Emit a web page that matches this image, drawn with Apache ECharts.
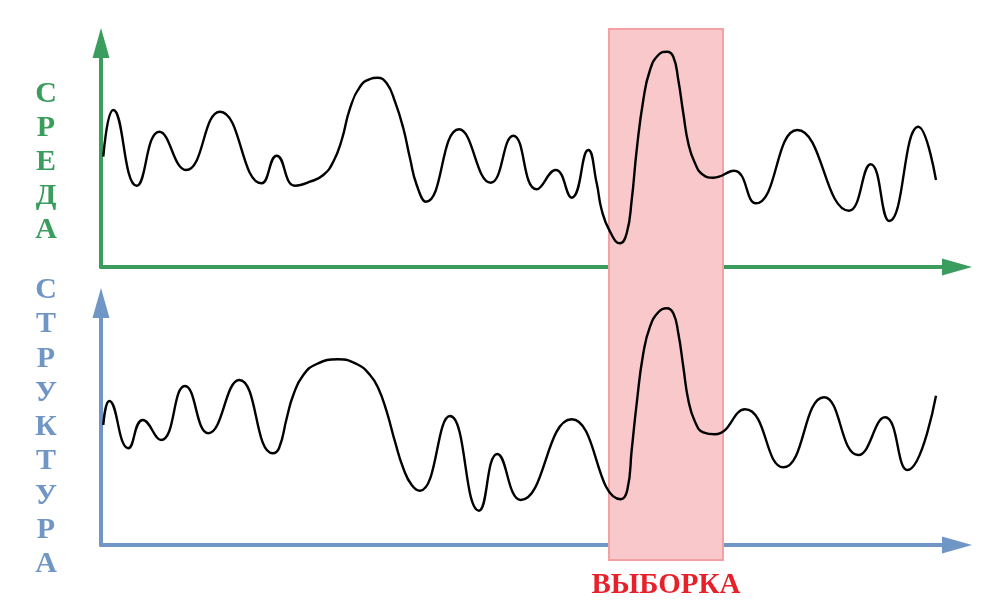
<!DOCTYPE html>
<html>
<head>
<meta charset="utf-8">
<script src="https://cdn.jsdelivr.net/npm/echarts@6/dist/echarts.min.js"></script>
<style>html,body{margin:0;padding:0;background:#fff}#c{width:990px;height:604px}</style>
</head>
<body>
<div id="c"></div>
<script>
// Top panel ("СРЕДА") curve
const topX = [0.23, 1.23, 3.57, 5.83, 8.5, 11.9, 16.07, 17.57, 19.4, 20.9, 22.23, 23.23, 24.07, 24.9, 25.9, 26.9, 27.63, 28.57, 29.4, 30.23, 30.9, 31.57, 32.5, 35.8, 38.97, 41.23, 43.57, 45.47, 47.07, 48.73, 49.57, 50.07, 50.9, 51.9, 52.57, 53.07, 53.57, 54.23, 54.9, 55.73, 56.6, 57.23, 57.73, 58.23, 58.73, 59.4, 60.23, 61.23, 63.3, 65.47, 69.63, 74.8, 76.97, 78.83, 81.73, 83.5];
const topY = [11.03, 15.7, 8.13, 13.53, 9.7, 15.53, 8.37, 11.13, 8.13, 8.53, 9.2, 10.53, 12.7, 15.87, 18.03, 18.8, 18.93, 18.37, 16.53, 13.87, 10.87, 8.2, 6.53, 13.77, 8.43, 13.13, 7.77, 9.7, 6.93, 11.7, 8.37, 5.7, 3.53, 2.37, 3.37, 6.7, 11.7, 16.7, 19.7, 21.2, 21.53, 21.03, 18.7, 15.37, 12.37, 10.37, 9.2, 8.93, 9.63, 6.37, 13.7, 5.63, 10.27, 4.6, 14.03, 8.7];
// Bottom panel ("СТРУКТУРА") curve
const botX = [0.23, 0.83, 2.73, 4.17, 6.0, 8.4, 10.73, 13.83, 17.17, 17.8, 18.57, 19.23, 20.23, 21.57, 23.73, 25.57, 26.9, 27.73, 28.57, 29.4, 30.23, 31.07, 31.9, 34.9, 37.8, 39.63, 41.97, 47.07, 51.97, 52.63, 53.07, 53.57, 54.23, 54.9, 55.73, 56.57, 57.23, 57.73, 58.23, 58.73, 59.4, 60.23, 61.4, 64.4, 68.23, 72.3, 75.73, 78.4, 80.63, 83.5];
const botY = [12.0, 14.4, 9.67, 12.5, 10.5, 15.9, 11.17, 16.5, 9.17, 9.67, 12.67, 15.0, 17.0, 18.1, 18.57, 18.1, 17.0, 15.67, 13.33, 10.33, 7.67, 6.0, 5.43, 12.9, 3.43, 9.1, 4.5, 12.57, 4.57, 5.5, 9.5, 14.17, 19.17, 21.83, 23.27, 23.67, 23.17, 21.17, 17.83, 14.5, 12.33, 11.27, 11.07, 13.57, 7.77, 14.77, 9.0, 12.77, 7.5, 14.93];
// Selection window on the shared x scale
const sampleRange = [50.8, 62.2];
const labels = { top: 'СРЕДА', bottom: 'СТРУКТУРА', sample: 'ВЫБОРКА' };
const xMax = 85.6, topMax = 22.4, botMax = 24.2;

const GREEN = '#3a9d5d', BLUE = '#7096c6';
const zip = (xs, ys) => xs.map((x, i) => [x, ys[i]]);
const vert = s => s.split('').join('\n');

function axisX(idx, color) {
  return { type: 'value', gridIndex: idx, min: 0, max: xMax, show: color !== null,
    axisLine: { show: color !== null, symbol: ['none', 'triangle'], symbolSize: [17, 30],
      lineStyle: { color: color || '#000', width: 4 } },
    axisTick: { show: false }, axisLabel: { show: false }, splitLine: { show: false } };
}
function axisY(idx, max, color) {
  return { type: 'value', gridIndex: idx, min: 0, max: max, show: color !== null,
    axisLine: { show: color !== null, onZero: false, symbol: ['none', 'triangle'], symbolSize: [17, 30],
      lineStyle: { color: color || '#000', width: 4 } },
    axisTick: { show: false }, axisLabel: { show: false }, splitLine: { show: false } };
}
const serif = 'Liberation Serif, Times New Roman, serif';
const curve = (xi, yi, xs, ys) => ({
  type: 'line', xAxisIndex: xi, yAxisIndex: yi, data: zip(xs, ys),
  smooth: 0.5, showSymbol: false, symbol: 'none', z: 5,
  lineStyle: { color: '#000', width: 2.4 }
});

const chart = echarts.init(document.getElementById('c'), null, { renderer: 'canvas' });
chart.setOption({
  animation: false,
  title: [
    { text: vert(labels.top), left: 46, top: 77, padding: 0, textAlign: 'center',
      textStyle: { color: GREEN, fontFamily: serif, fontWeight: 'bold', fontSize: 30, lineHeight: 34 } },
    { text: vert(labels.bottom), left: 46, top: 273, padding: 0, textAlign: 'center',
      textStyle: { color: BLUE, fontFamily: serif, fontWeight: 'bold', fontSize: 30, lineHeight: 34.3 } }
  ],
  grid: [
    { left: 101, top: 43, width: 856, height: 224 },
    { left: 101, top: 303, width: 856, height: 242 },
    { left: 101, top: 29, width: 856, height: 531 }
  ],
  xAxis: [axisX(0, GREEN), axisX(1, BLUE), axisX(2, null)],
  yAxis: [axisY(0, topMax, GREEN), axisY(1, botMax, BLUE), axisY(2, 1, null)],
  series: [
    { type: 'line', xAxisIndex: 2, yAxisIndex: 2, data: [[0, 0]], symbol: 'none',
      lineStyle: { opacity: 0 }, z: 1, silent: true,
      markArea: { silent: true,
        itemStyle: { color: '#f9c8cb', borderColor: '#f4a0a4', borderWidth: 2 },
        label: { show: true, position: 'bottom', distance: 10, formatter: labels.sample,
          color: '#e8202a', fontFamily: serif, fontWeight: 'bold', fontSize: 29 },
        data: [[{ xAxis: sampleRange[0], yAxis: 0 }, { xAxis: sampleRange[1], yAxis: 1 }]] } },
    curve(0, 0, topX, topY),
    curve(1, 1, botX, botY)
  ]
});
</script>
</body>
</html>
